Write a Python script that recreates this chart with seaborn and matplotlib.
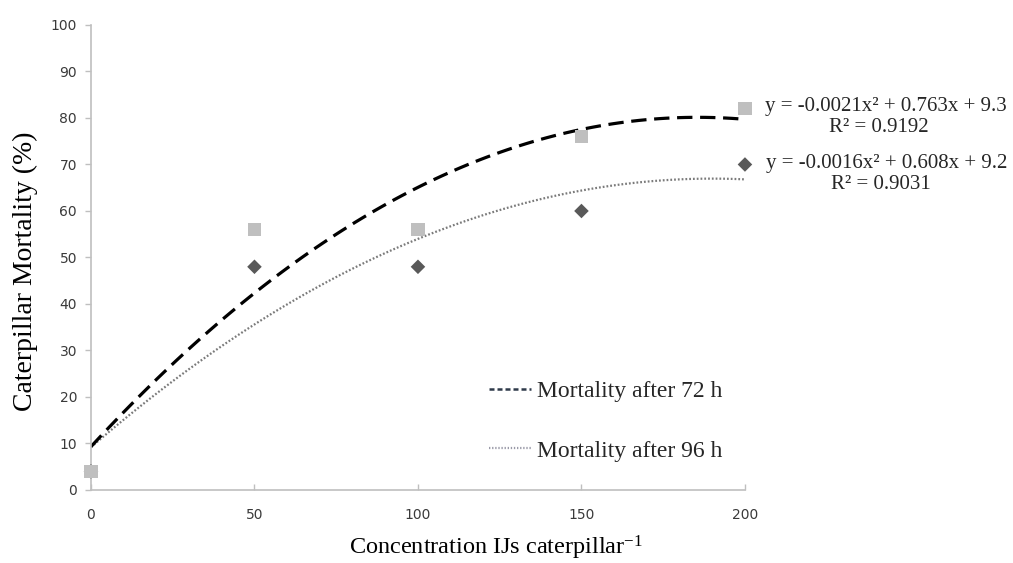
import numpy as np
import pandas as pd
import matplotlib
matplotlib.use("Agg")
import matplotlib.pyplot as plt
from matplotlib.lines import Line2D
import seaborn as sns

# ---- data ----
concentration = [0, 50, 100, 150, 200]
mortality_72h = [4, 56, 56, 76, 82]      # light grey squares
mortality_96h = [4, 48, 48, 60, 70]      # dark grey diamonds
x_ticks = [0, 50, 100, 150, 200]
y_ticks = [0, 10, 20, 30, 40, 50, 60, 70, 80, 90, 100]
legend_labels = ["Mortality after 72 h", "Mortality after 96 h"]
eq_72 = ["y = -0.0021x² + 0.763x + 9.3", "R² = 0.9192"]
eq_96 = ["y = -0.0016x² + 0.608x + 9.2", "R² = 0.9031"]

df = pd.DataFrame({"conc": concentration, "m72": mortality_72h, "m96": mortality_96h})

sns.set_theme(style="white")
plt.rcParams["font.family"] = ["DejaVu Sans"]
plt.rcParams["mathtext.fontset"] = "custom"
plt.rcParams["mathtext.rm"] = "Liberation Serif"
plt.rcParams["mathtext.it"] = "Liberation Serif:italic"
serif = ["Liberation Serif", "DejaVu Serif"]

fig = plt.figure(figsize=(10.13, 5.63), dpi=100)
ax = fig.add_axes([0.0898, 0.1297, 0.6456, 0.8259])

# trendlines (2nd order polynomial fits)
sns.regplot(data=df, x="conc", y="m96", order=2, ci=None, scatter=False, ax=ax,
            line_kws=dict(color="#7a7a7a", lw=1.6, linestyle=(0, (0.8, 0.9)), zorder=2))
sns.regplot(data=df, x="conc", y="m72", order=2, ci=None, scatter=False, ax=ax,
            line_kws=dict(color="black", lw=2.3, linestyle=(0, (4.8, 2.4)), zorder=2))

# points
sns.scatterplot(data=df, x="conc", y="m96", marker="D", s=55, color="#595959",
                edgecolor="none", ax=ax, zorder=3, clip_on=False)
sns.scatterplot(data=df, x="conc", y="m72", marker="s", s=95, color="#bfbfbf",
                edgecolor="none", ax=ax, zorder=4, clip_on=False)

ax.set_xlim(0, 200)
ax.set_ylim(0, 100)
ax.set_xticks(x_ticks)
ax.set_yticks(y_ticks)

for s in ["top", "right"]:
    ax.spines[s].set_visible(False)
for s in ["left", "bottom"]:
    ax.spines[s].set_color("#bfbfbf")
    ax.spines[s].set_linewidth(1.2)

ax.tick_params(axis="y", direction="out", length=4, width=1, color="#bfbfbf",
               labelsize=10, labelcolor="#3a3a3a", pad=6, left=True)
ax.tick_params(axis="x", direction="in", length=4, width=1, color="#bfbfbf",
               labelsize=10, labelcolor="#3a3a3a", pad=13, bottom=True)

ax.set_xlabel(r"Concentration IJs caterpillar$^{\mathrm{-1}}$", family=serif, fontsize=17.5,
              color="black")
ax.xaxis.set_label_coords(0.62, -0.095)
ax.set_ylabel("Caterpillar Mortality (%)", family=serif, fontsize=20, color="black")
ax.yaxis.set_label_coords(-0.081, 0.47)

# legend
handles = [
    Line2D([], [], color="#2f3a4a", lw=1.8, linestyle=(0, (2.0, 1.2))),
    Line2D([], [], color="#9a9aa8", lw=1.6, linestyle=(0, (0.6, 0.8))),
]
leg = ax.legend(handles, legend_labels, loc="center left", bbox_to_anchor=(0.608, 0.148),
                frameon=False, prop=dict(family=serif, size=17), handlelength=1.8,
                handletextpad=0.25, labelspacing=1.6, borderaxespad=0, borderpad=0)

# equations
ax.text(206.2, 82.4, eq_72[0], family=serif, fontsize=15, va="center", ha="left", clip_on=False)
ax.text(241, 78.0, eq_72[1], family=serif, fontsize=15, va="center", ha="center", clip_on=False)
ax.text(206.5, 70.3, eq_96[0], family=serif, fontsize=15, va="center", ha="left", clip_on=False)
ax.text(241.5, 65.8, eq_96[1], family=serif, fontsize=15, va="center", ha="center", clip_on=False)

fig.savefig("out.png", dpi=100)
